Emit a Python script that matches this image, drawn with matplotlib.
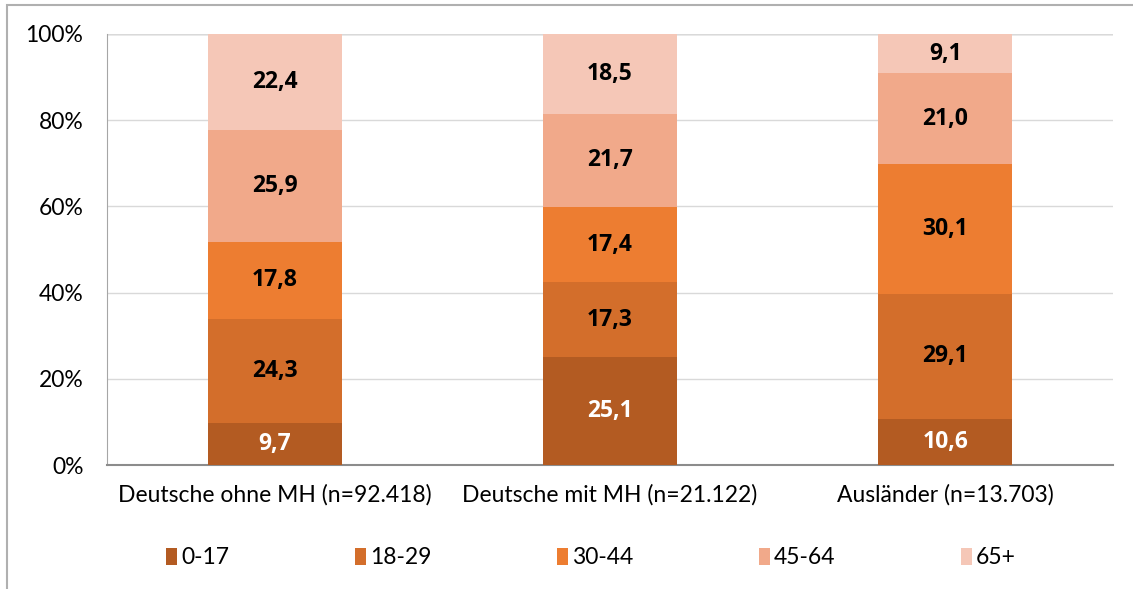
import numpy as np
import matplotlib
matplotlib.use('Agg')
from matplotlib import pyplot as plt
from matplotlib.patches import Rectangle

plt.rcParams['font.family'] = ['Lato', 'DejaVu Sans']

# data
categories = ['Deutsche ohne MH (n=92.418)', 'Deutsche mit MH (n=21.122)', 'Ausländer (n=13.703)']
age_groups = ['0-17', '18-29', '30-44', '45-64', '65+']
values = {
    '0-17': [9.7, 25.1, 10.6],
    '18-29': [24.3, 17.3, 29.1],
    '30-44': [17.8, 17.4, 30.1],
    '45-64': [25.9, 21.7, 21.0],
    '65+': [22.4, 18.5, 9.1],
}
colors = ['#B35B22', '#D36E2B', '#ED7D31', '#F1A98A', '#F5C7B7']
label_colors = ['white', 'black', 'black', 'black', 'black']

fig = plt.figure(figsize=(11.33, 5.89), dpi=100)
ax = fig.add_axes([107 / 1133, 1 - 465 / 589, 1006 / 1133, 431 / 589])

# frame around the whole chart
fig.patches.append(Rectangle((7 / 1133, -0.05), 1.1, 1 - 5 / 589 + 0.05,
                             transform=fig.transFigure, fill=False,
                             edgecolor='#B0B0B0', linewidth=1.5))

data = np.array([values[g] for g in age_groups])
totals = data.sum(axis=0)
pct = data / totals * 100
x = np.arange(len(categories))
bottom = np.zeros(len(categories))
handles = []
for i, g in enumerate(age_groups):
    h = ax.bar(x, pct[i], 0.4, bottom=bottom, color=colors[i], label=g, zorder=3)
    handles.append(h)
    for j in range(len(categories)):
        ax.text(x[j], bottom[j] + pct[i][j] / 2, f"{values[g][j]:.1f}".replace('.', ','),
                ha='center', va='center', fontsize=16.5, fontweight='bold',
                family=['Open Sans', 'DejaVu Sans'], color=label_colors[i], zorder=4)
    bottom += pct[i]

ax.set_xlim(-0.5, 2.5)
ax.set_ylim(0, 100)
ax.set_yticks(np.arange(0, 101, 20))
ax.set_yticklabels([f"{t}%" for t in range(0, 101, 20)])
ax.set_xticks(x)
ax.set_xticklabels(categories)
ax.tick_params(axis='both', length=0, labelsize=16.5, colors='black')
ax.tick_params(axis='y', pad=17)
ax.tick_params(axis='x', pad=14)
ax.grid(axis='y', color='#D9D9D9', linewidth=1, zorder=0)
for s in ['top', 'right']:
    ax.spines[s].set_visible(False)
ax.spines['left'].set_color('#A6A6A6')
ax.spines['bottom'].set_color('#8C8C8C')
ax.spines['bottom'].set_linewidth(1.5)
ax.axhline(100, color='#A6A6A6', linewidth=1, zorder=1)

# legend entries at fixed, evenly spaced positions (like Excel)
legend_x = [166, 355, 557, 759, 961]
for h, g, lx in zip(handles, age_groups, legend_x):
    leg = fig.legend([h], [g], loc='center left', bbox_to_anchor=(lx / 1133, 1 - 558 / 589),
                     frameon=False, fontsize=16.5, handlelength=0.5, handleheight=0.7,
                     handletextpad=0.15, borderpad=0, borderaxespad=0)

fig.savefig('out.png', dpi=100)
